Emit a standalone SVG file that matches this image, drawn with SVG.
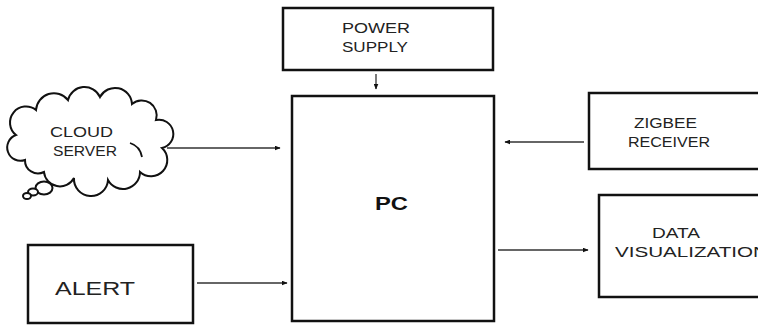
<svg xmlns="http://www.w3.org/2000/svg" width="758" height="325" viewBox="0 0 758 325">
<style>
.box{fill:#fff;stroke:#111;stroke-width:2.5}
.t{font-family:"Liberation Sans",Arial,sans-serif;font-size:14px;fill:#222}
.big{font-size:18px}
.b{font-weight:bold;fill:#111}
.c{stroke:#333;stroke-width:1.3;fill:none}
.cl{fill:#fff;stroke:#111;stroke-width:2}
</style>
<defs>
<marker id="ah" viewBox="0 0 10 10" refX="9" refY="5" markerWidth="6" markerHeight="5" markerUnits="userSpaceOnUse" orient="auto" preserveAspectRatio="none">
<path d="M0,0 L10,5 L0,10 Z" fill="#111"/>
</marker>
</defs>
<rect width="758" height="325" fill="#fff"/>
<g id="connectors">
<line class="c" x1="376" y1="74" x2="376" y2="89" marker-end="url(#ah)"/>
<line class="c" x1="167" y1="148" x2="280" y2="148" marker-end="url(#ah)"/>
<line class="c" x1="584" y1="142" x2="505" y2="142" marker-end="url(#ah)"/>
<line class="c" x1="498" y1="250" x2="588" y2="250" marker-end="url(#ah)"/>
<line class="c" x1="197" y1="283" x2="287" y2="283" marker-end="url(#ah)"/>
</g>
<g id="power-supply">
<rect class="box" x="283" y="8" width="210" height="62"/>
<text class="t" x="342" y="33" textLength="68" lengthAdjust="spacingAndGlyphs">POWER</text>
<text class="t" x="342" y="52" textLength="66" lengthAdjust="spacingAndGlyphs">SUPPLY</text>
</g>
<g id="pc">
<rect class="box" x="292" y="96" width="202" height="225"/>
<text class="t big b" x="375" y="210" textLength="33" lengthAdjust="spacingAndGlyphs">PC</text>
</g>
<g id="cloud-server">
<path class="cl" d="M25,160 A13,13 0 0 1 16,135 A14,14 0 0 1 36,110 A18,18 0 0 1 68,100 A17,17 0 0 1 100,97 A17,17 0 0 1 132,104 A15,15 0 0 1 156,120 A14,14 0 0 1 162,148 A15,15 0 0 1 140,172 A17,17 0 0 1 108,180 A17,17 0 0 1 74,178 A16,16 0 0 1 44,172 A13,13 0 0 1 25,160 Z"/>
<path class="c" style="stroke:#111;stroke-width:1.8" d="M130,143 Q140,146 142,157"/>
<ellipse class="cl" cx="44" cy="188" rx="8.5" ry="6.5"/>
<ellipse class="cl" cx="33" cy="192" rx="5" ry="3.5"/>
<ellipse class="cl" cx="27" cy="196" rx="4" ry="3"/>
<text class="t" x="50" y="137" textLength="63" lengthAdjust="spacingAndGlyphs">CLOUD</text>
<text class="t" x="53" y="156" textLength="64" lengthAdjust="spacingAndGlyphs">SERVER</text>
</g>
<g id="zigbee-receiver">
<rect class="box" x="589" y="93" width="180" height="76"/>
<text class="t" x="634" y="128" textLength="63" lengthAdjust="spacingAndGlyphs">ZIGBEE</text>
<text class="t" x="628" y="147" textLength="82" lengthAdjust="spacingAndGlyphs">RECEIVER</text>
</g>
<g id="data-visualization">
<rect class="box" x="599" y="195" width="180" height="102"/>
<text class="t" x="652" y="238" textLength="48" lengthAdjust="spacingAndGlyphs">DATA</text>
<text class="t" x="615" y="257" textLength="153" lengthAdjust="spacingAndGlyphs">VISUALIZATION</text>
</g>
<g id="alert">
<rect class="box" x="28" y="245" width="165" height="78"/>
<text class="t big" x="55" y="295" textLength="80" lengthAdjust="spacingAndGlyphs">ALERT</text>
</g>
</svg>
